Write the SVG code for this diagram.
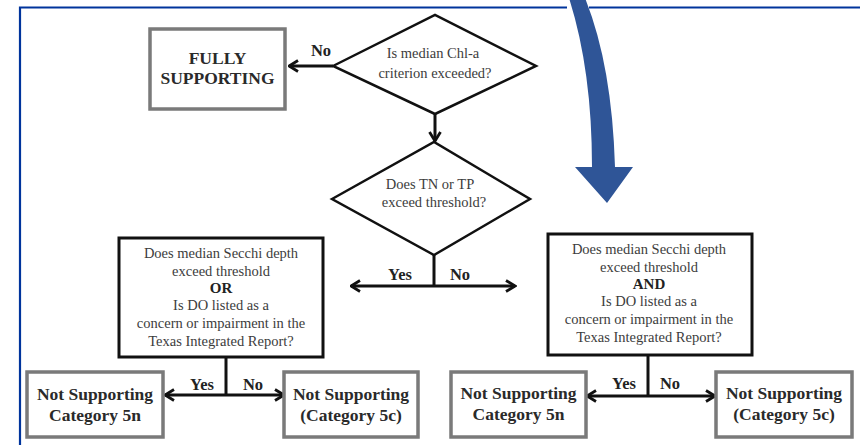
<svg xmlns="http://www.w3.org/2000/svg" width="860" height="445" viewBox="0 0 860 445">
<style>
text{font-family:'Liberation Serif','Times New Roman',serif}
.q{font-size:14.5px;fill:#3c3c3c;text-anchor:middle}
.qb{font-size:15px;font-weight:bold;fill:#222;text-anchor:middle}
.out{font-size:17.5px;font-weight:bold;fill:#2a2a2a;text-anchor:middle}
.lbl{font-size:16.5px;font-weight:bold;fill:#222;text-anchor:middle}
.qbox{fill:#fff;stroke:#111;stroke-width:3}
.obox{fill:#fff;stroke:#7a7a7a;stroke-width:3.5}
.dia{fill:#fff;stroke:#111;stroke-width:2.5}
.con{fill:none;stroke:#111;stroke-width:3}
.arr{marker-end:url(#ah)}
</style>
<defs>
<marker id="ah" markerUnits="userSpaceOnUse" viewBox="0 0 12 14" refX="10.5" refY="7" markerWidth="12" markerHeight="14" orient="auto">
<path d="M1.5,1.5 L10.5,7 L1.5,12.5" fill="none" stroke="#111" stroke-width="2.8"/>
</marker>
</defs>
<rect width="860" height="445" fill="#fff"/>
<path d="M20,445 L20,7.5 L567,7.5 M589,7.5 L860,7.5" fill="none" stroke="#00349c" stroke-width="2.2"/>

<g id="connectors">
<line class="con arr" x1="333" y1="66" x2="289" y2="66"/>
<line class="con arr" x1="435" y1="114" x2="435" y2="141"/>
<line class="con" x1="434" y1="255" x2="434" y2="286"/>
<line class="con arr" x1="434" y1="286" x2="351" y2="286"/>
<line class="con arr" x1="434" y1="286" x2="515" y2="286"/>
<line class="con" x1="226" y1="357" x2="226" y2="395"/>
<line class="con arr" x1="226" y1="395" x2="165" y2="395"/>
<line class="con arr" x1="226" y1="395" x2="284" y2="395"/>
<line class="con" x1="648" y1="355" x2="648" y2="396"/>
<line class="con arr" x1="648" y1="396" x2="587" y2="396"/>
<line class="con arr" x1="648" y1="396" x2="715" y2="396"/>
<text class="lbl" x="321" y="56">No</text>
<text class="lbl" x="400" y="280">Yes</text>
<text class="lbl" x="460" y="280">No</text>
<text class="lbl" x="202" y="390">Yes</text>
<text class="lbl" x="253" y="390">No</text>
<text class="lbl" x="624" y="389">Yes</text>
<text class="lbl" x="670" y="389">No</text>
</g>

<g id="fully">
<rect class="obox" x="150" y="29" width="135" height="80"/>
<text class="out" x="217.5" y="64">FULLY</text>
<text class="out" x="217.5" y="84">SUPPORTING</text>
</g>

<g id="chla">
<polygon class="dia" points="333,66 435,15 536,66 435,114"/>
<text class="q" x="433" y="58">Is median Chl-a</text>
<text class="q" x="435" y="78">criterion exceeded?</text>
</g>

<g id="tntp">
<polygon class="dia" points="332,199 434,142 530,199 434,255"/>
<text class="q" x="430" y="189">Does TN or TP</text>
<text class="q" x="434" y="207">exceed threshold?</text>
</g>

<g id="orbox">
<rect class="qbox" x="119" y="238" width="204" height="119"/>
<text class="q" x="221" y="258">Does median Secchi depth</text>
<text class="q" x="221" y="276">exceed threshold</text>
<text class="qb" x="221" y="293">OR</text>
<text class="q" x="221" y="310">Is DO listed as a</text>
<text class="q" x="221" y="328">concern or impairment in the</text>
<text class="q" x="221" y="346">Texas Integrated Report?</text>
</g>

<g id="andbox">
<rect class="qbox" x="548" y="234" width="204" height="121"/>
<text class="q" x="649" y="254">Does median Secchi depth</text>
<text class="q" x="649" y="272">exceed threshold</text>
<text class="qb" x="649" y="289">AND</text>
<text class="q" x="649" y="306">Is DO listed as a</text>
<text class="q" x="649" y="324">concern or impairment in the</text>
<text class="q" x="649" y="342">Texas Integrated Report?</text>
</g>

<g id="ns5n-left">
<rect class="obox" x="27" y="372" width="136" height="65"/>
<text class="out" x="95" y="400">Not Supporting</text>
<text class="out" x="95" y="421">Category 5n</text>
</g>

<g id="ns5c-left">
<rect class="obox" x="284" y="372" width="134" height="65"/>
<text class="out" x="351" y="400">Not Supporting</text>
<text class="out" x="351" y="421">(Category 5c)</text>
</g>

<g id="ns5n-right">
<rect class="obox" x="451" y="372" width="135" height="65"/>
<text class="out" x="518.5" y="399">Not Supporting</text>
<text class="out" x="518.5" y="420">Category 5n</text>
</g>

<g id="ns5c-right">
<rect class="obox" x="716" y="372" width="136" height="65"/>
<text class="out" x="784" y="399">Not Supporting</text>
<text class="out" x="784" y="420">(Category 5c)</text>
</g>

<g id="blue-arrow">
<path d="M569,-2 L585,-2 Q612,65 615,167 L633,167 L607,203 L575,167 L592,167 Q592,70 569,-2 Z" fill="#2f5597"/>
</g>
</svg>
